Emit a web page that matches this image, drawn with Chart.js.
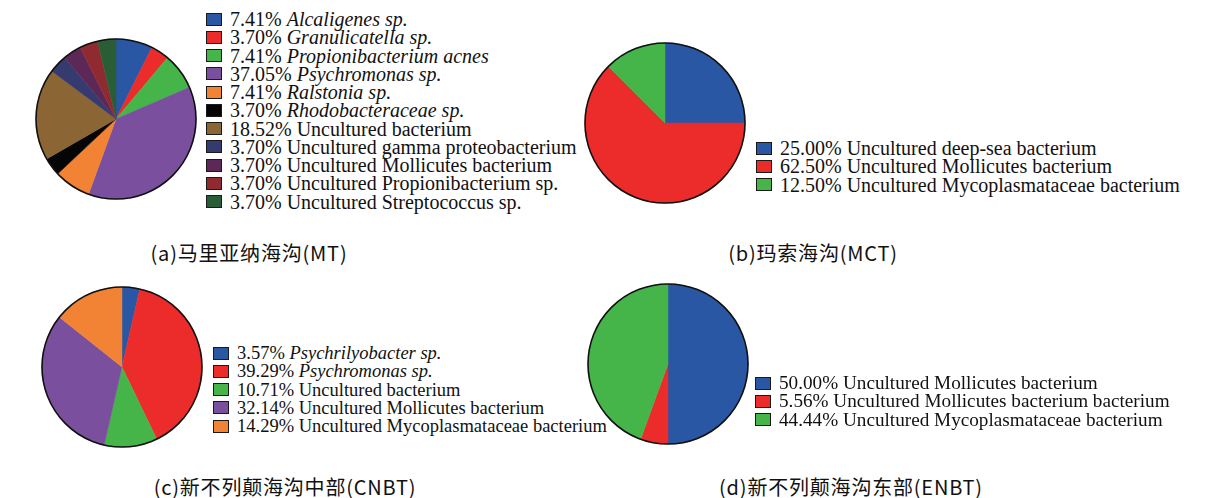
<!DOCTYPE html>
<html lang="zh">
<head>
<meta charset="utf-8">
<title>海沟细菌组成</title>
<script src="https://cdn.jsdelivr.net/npm/chart.js@4.4.1/dist/chart.umd.min.js"></script>
<style>
  html, body { margin: 0; padding: 0; background: #fff; }
  #page { position: relative; width: 1216px; height: 498px; overflow: hidden; }
  .pie { position: absolute; width: 180px; height: 180px; }
  .legend { position: absolute; font-family: 'Liberation Serif', serif; color: #111; white-space: nowrap; }
  .legend .row { display: flex; align-items: center; height: 18.27px; line-height: 18.27px; }
  .legend .box { flex: none; width: 16px; height: 13px; box-sizing: border-box; border: 1.5px solid #1a1a1a; margin-right: 8px; }
  .legend i { font-style: italic; }
  .caption { position: absolute; width: 400px; text-align: center; font-family: 'Noto Sans CJK SC', sans-serif;
             font-size: 20px; letter-spacing: 0.8px; line-height: 24px; color: #111; }
</style>
</head>
<body>
<div id="page">
  <div class="pie" style="left:26px; top:29px;"><canvas id="chartA"></canvas></div>
  <div class="legend" id="legendA" style="left:206px; top:10px; font-size:20px;"></div>
  <div class="caption" style="left:49px; top:241px;">(a)马里亚纳海沟(MT)</div>

  <div class="pie" style="left:575px; top:33px;"><canvas id="chartB"></canvas></div>
  <div class="legend" id="legendB" style="left:756px; top:139px; font-size:20px;"></div>
  <div class="caption" style="left:613px; top:241px;">(b)玛索海沟(MCT)</div>

  <div class="pie" style="left:32px; top:277px;"><canvas id="chartC"></canvas></div>
  <div class="legend" id="legendC" style="left:213px; top:344px; font-size:18.5px;"></div>
  <div class="caption" style="left:85px; top:475px;">(c)新不列颠海沟中部(CNBT)</div>

  <div class="pie" style="left:578px; top:274px;"><canvas id="chartD"></canvas></div>
  <div class="legend" id="legendD" style="left:755px; top:374px; font-size:19.2px;"></div>
  <div class="caption" style="left:651px; top:475px;">(d)新不列颠海沟东部(ENBT)</div>
</div>

<script>
'use strict'
{
  // (a) 马里亚纳海沟
  const namesA = ['Alcaligenes sp.', 'Granulicatella sp.', 'Propionibacterium acnes', 'Psychromonas sp.',
    'Ralstonia sp.', 'Rhodobacteraceae sp.', 'Uncultured bacterium', 'Uncultured gamma proteobacterium',
    'Uncultured Mollicutes bacterium', 'Uncultured Propionibacterium sp.', 'Uncultured Streptococcus sp.'];
  const valuesA = [7.41, 3.70, 7.41, 37.05, 7.41, 3.70, 18.52, 3.70, 3.70, 3.70, 3.70];

  // (b) 玛索海沟
  const namesB = ['Uncultured deep-sea bacterium', 'Uncultured Mollicutes bacterium', 'Uncultured Mycoplasmataceae bacterium'];
  const valuesB = [25.00, 62.50, 12.50];

  // (c) 新不列颠海沟中部
  const namesC = ['Psychrilyobacter sp.', 'Psychromonas sp.', 'Uncultured bacterium',
    'Uncultured Mollicutes bacterium', 'Uncultured Mycoplasmataceae bacterium'];
  const valuesC = [3.57, 39.29, 10.71, 32.14, 14.29];

  // (d) 新不列颠海沟东部
  const namesD = ['Uncultured Mollicutes bacterium', 'Uncultured Mollicutes bacterium bacterium', 'Uncultured Mycoplasmataceae bacterium'];
  const valuesD = [50.00, 5.56, 44.44];

  const palette = ['#2957A4', '#EC2B2B', '#45B54A', '#7A4F9E', '#F28234', '#050505',
    '#8C6535', '#353B6E', '#5B2858', '#8F2B30', '#2A5D36'];

  // legend as html, built from the chart's own legend items
  const htmlLegend = {
    id: 'htmlLegend',
    afterUpdate(chart, args, opts) {
      const box = document.getElementById(opts.containerID);
      box.innerHTML = '';
      const values = chart.data.datasets[0].data;
      const items = chart.options.plugins.legend.labels.generateLabels(chart);
      items.forEach(item => {
        const row = document.createElement('div');
        row.className = 'row';
        const swatch = document.createElement('span');
        swatch.className = 'box';
        swatch.style.background = item.fillStyle;
        const label = document.createElement('span');
        label.appendChild(document.createTextNode(values[item.index].toFixed(2) + '% '));
        const nm = document.createElement(item.text.startsWith('Uncultured') ? 'span' : 'i');
        nm.textContent = item.text;
        label.appendChild(nm);
        row.append(swatch, label);
        box.appendChild(row);
      });
    }
  };

  // black rim round the pie
  const outline = {
    id: 'outline',
    afterDatasetsDraw(chart) {
      const arc = chart.getDatasetMeta(0).data[0];
      if (!arc) return;
      const ctx = chart.ctx;
      ctx.save();
      ctx.beginPath();
      ctx.arc(arc.x, arc.y, arc.outerRadius, 0, Math.PI * 2);
      ctx.lineWidth = 1.6;
      ctx.strokeStyle = '#111';
      ctx.stroke();
      ctx.restore();
    }
  };

  const makePie = (canvasId, legendId, names, values) => {
    const colors = palette.slice(0, values.length);
    return new Chart(document.getElementById(canvasId), {
      type: 'pie',
      data: {
        labels: names,
        datasets: [{
          data: values,
          backgroundColor: colors,
          borderColor: colors,
          borderWidth: 0.5,
        }],
      },
      options: {
        responsive: true,
        maintainAspectRatio: false,
        animation: false,
        radius: 80,
        layout: { padding: 0 },
        plugins: {
          legend: { display: false },
          tooltip: { enabled: false },
          htmlLegend: { containerID: legendId },
        },
      },
      plugins: [htmlLegend, outline],
    });
  };

  makePie('chartA', 'legendA', namesA, valuesA);
  makePie('chartB', 'legendB', namesB, valuesB);
  makePie('chartC', 'legendC', namesC, valuesC);
  makePie('chartD', 'legendD', namesD, valuesD);
}
</script>
</body>
</html>
